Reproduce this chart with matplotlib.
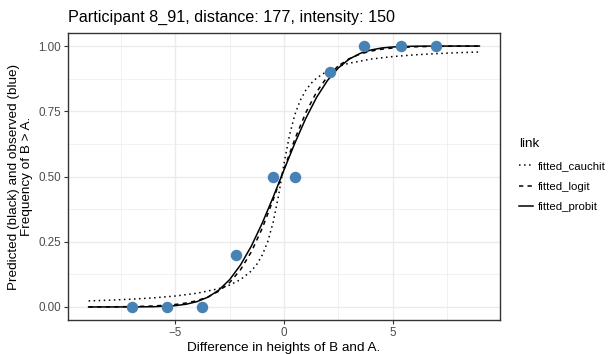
import numpy as np
import matplotlib
matplotlib.use("Agg")
import matplotlib.pyplot as plt
from matplotlib.ticker import MultipleLocator

plt.rcParams['font.family'] = ['Liberation Sans', 'DejaVu Sans']

# observed frequencies (blue points)
obs_x = [-7.0, -5.4, -3.8, -2.2, -0.5, 0.5, 2.1, 3.7, 5.4, 7.0]
obs_y = [0.0, 0.0, 0.0, 0.2, 0.5, 0.5, 0.9, 1.0, 1.0, 1.0]

# fitted curves, values
grid_x = [-9, -8, -7, -6, -5, -4.5, -4, -3.5, -3, -2.5, -2, -1.5, -1, -0.5,
          0, 0.5, 1, 1.5, 2, 2.5, 3, 3.5, 4, 4.5, 5, 6, 7, 8, 9]
probit_y = [0.0000, 0.0000, 0.0002, 0.0010, 0.0051, 0.0106, 0.0206, 0.0376,
            0.0648, 0.1051, 0.1613, 0.2339, 0.3217, 0.4207, 0.5252, 0.6279,
            0.7221, 0.8031, 0.8678, 0.9161, 0.9497, 0.9716, 0.9849, 0.9925,
            0.9965, 0.9994, 0.9999, 1.0000, 1.0000]
logit_y = [0.0002, 0.0006, 0.0014, 0.0037, 0.0095, 0.0152, 0.0242, 0.0385,
           0.0605, 0.0939, 0.1431, 0.2119, 0.3019, 0.4105, 0.5285, 0.6434,
           0.7440, 0.8239, 0.8828, 0.9238, 0.9512, 0.9692, 0.9806, 0.9879,
           0.9924, 0.9971, 0.9989, 0.9996, 0.9998]

cauchit_x = [-9, -8, -7, -6, -5, -4, -3, -2.5, -2, -1.5, -1.25, -1, -0.75,
             -0.5, -0.25, 0, 0.25, 0.5, 0.75, 1, 1.25, 1.5, 2, 2.5, 3, 4, 5,
             6, 7, 8, 9]
cauchit_y = [0.0232, 0.0261, 0.0299, 0.0349, 0.0420, 0.0526, 0.0702, 0.0842,
             0.1049, 0.1383, 0.1637, 0.1991, 0.2500, 0.3244, 0.4278, 0.5486,
             0.6572, 0.7373, 0.7922, 0.8302, 0.8572, 0.8772, 0.9044, 0.9220,
             0.9342, 0.9500, 0.9596, 0.9662, 0.9709, 0.9745, 0.9773]

title = "Participant 8_91, distance: 177, intensity: 150"

fig = plt.figure(figsize=(6.14, 3.54), dpi=100)
ax = fig.add_axes([68/614, 34/354, 432/614, 287/354])

# lines first, points on top
ax.plot(cauchit_x, cauchit_y, color='black', lw=1.1, ls=(0, (1, 2.3)), label='fitted_cauchit')
ax.plot(grid_x, logit_y, color='black', lw=1.1, ls=(0, (2.8, 2.8)), label='fitted_logit')
ax.plot(grid_x, probit_y, color='black', lw=1.1, ls='-', label='fitted_probit')
ax.scatter(obs_x, obs_y, s=68, color='#4682B4', zorder=3, linewidths=0)

ax.set_xlim(-9.95, 9.95)
ax.set_ylim(-0.05, 1.05)
ax.xaxis.set_major_locator(MultipleLocator(5))
ax.xaxis.set_minor_locator(MultipleLocator(2.5))
ax.yaxis.set_major_locator(MultipleLocator(0.25))
ax.yaxis.set_minor_locator(MultipleLocator(0.125))
ax.yaxis.set_major_formatter(plt.FuncFormatter(lambda v, p: "%.2f" % v))

# theme_bw look
ax.set_axisbelow(True)
ax.grid(which='major', color='#EBEBEB', lw=1.0)
ax.grid(which='minor', color='#EBEBEB', lw=0.5)
for s in ax.spines.values():
    s.set_color('#333333')
    s.set_linewidth(1.0)
ax.tick_params(which='major', length=3, width=0.8, color='#333333',
               labelcolor='#4D4D4D', labelsize=8.4, pad=2)
ax.tick_params(which='minor', length=0)

ax.set_xlabel("Difference in heights of B and A.", fontsize=9.7, labelpad=2)
ax.set_ylabel("Predicted (black) and observed (blue)\nFrequency of B > A.",
              fontsize=9.7, labelpad=4, linespacing=1.1)
fig.text(68/614, 1 - 17/354, title, fontsize=11.6, ha='left', va='center')

leg = ax.legend(loc='upper left', bbox_to_anchor=(1.02, 0.67), frameon=False,
                title='link', fontsize=8.2, title_fontsize=9.7,
                handlelength=1.2, handletextpad=0.5, labelspacing=0.95,
                alignment='left')

fig.savefig('out.png', dpi=100)
